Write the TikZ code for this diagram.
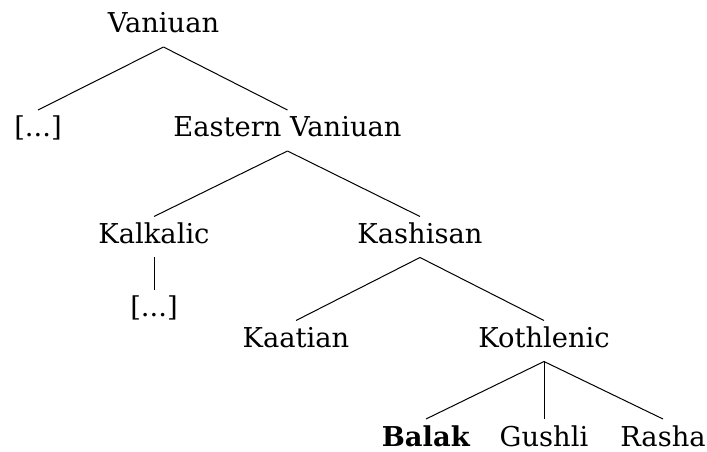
\documentclass[tikz,border=0pt]{standalone}
\usepackage{fontspec}
\setmainfont{DejaVu Serif}
\begin{document}
\begin{tikzpicture}[x=0.75pt,y=0.75pt,yscale=-1,xscale=1,
  lang/.style={inner sep=0pt, outer ysep=10.5pt, anchor=base, text height=9.75pt, text depth=0pt,
    font=\fontsize{20.5}{24}\selectfont},
  branch/.style={line width=0.75pt}]
\useasboundingbox (0,0) rectangle (707,452);

% family tree
\node [lang] (van) at (163.5,33) {Vaniuan};
\node [lang] (gap1) at (38,137) {[...]};
\node [lang] (east) at (287.5,137) {Eastern Vaniuan};
\node [lang] (kalk) at (154,243.5) {Kalkalic};
\node [lang] (kash) at (420,243.5) {Kashisan};
\node [lang] (gap2) at (154,317) {[...]};
\node [lang] (kaat) at (296,347.5) {Kaatian};
\node [lang] (koth) at (544,347.5) {Kothlenic};
\node [lang] (bal) at (426,446) {\textbf{Balak}};
\node [lang] (gus) at (544,446) {Gushli};
\node [lang] (ras) at (663,446) {Rasha};

\draw [branch] (van.south) -- (gap1.north) ;
\draw [branch] (van.south) -- (east.north) ;
\draw [branch] (east.south) -- (kalk.north) ;
\draw [branch] (east.south) -- (kash.north) ;
\draw [branch] (kalk.south) -- (gap2.north) ;
\draw [branch] (kash.south) -- (kaat.north) ;
\draw [branch] (kash.south) -- (koth.north) ;
\draw [branch] (koth.south) -- (bal.north) ;
\draw [branch] (koth.south) -- (gus.north) ;
\draw [branch] (koth.south) -- (ras.north) ;

\end{tikzpicture}
\end{document}
